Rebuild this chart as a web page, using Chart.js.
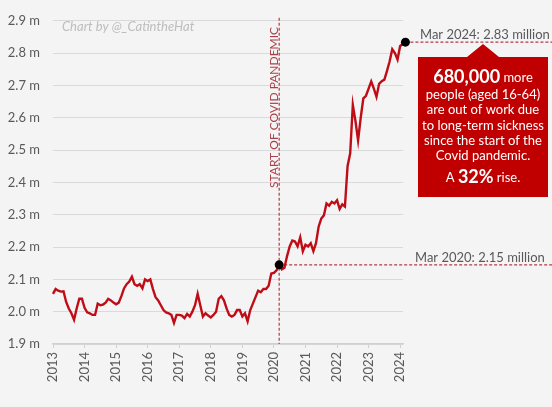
<!DOCTYPE html>
<html>
<head>
<meta charset="utf-8">
<script src="https://cdn.jsdelivr.net/npm/chart.js@4.4.1/dist/chart.umd.min.js"></script>
<style>
  html, body { margin: 0; padding: 0; background: #f4f4f4; }
  #wrap { width: 552px; height: 407px; position: relative; }
</style>
</head>
<body>
<div id="wrap"><canvas id="chart" width="552" height="407"></canvas></div>
<script>
// Monthly values, Jan 2013 .. Mar 2024 (millions, aged 16-64, long-term sick)
const firstYear = 2013;
const sickness = [
  2.055, 2.07, 2.065, 2.062, 2.063, 2.03, 2.01, 1.995, 1.975, 2.01, 2.04, 2.04,
  2.012, 1.998, 1.995, 1.99, 1.99, 2.025, 2.02, 2.022, 2.028, 2.04, 2.035, 2.028,
  2.023, 2.028, 2.048, 2.072, 2.085, 2.093, 2.108, 2.085, 2.08, 2.085, 2.072, 2.10,
  2.095, 2.10, 2.07, 2.045, 2.035, 2.02, 2.005, 1.998, 1.995, 1.99, 1.965, 1.99,
  1.99, 1.988, 1.98, 1.993, 1.985, 2.0, 2.02, 2.055, 2.02, 1.985, 1.995, 1.988,
  1.982, 1.99, 2.0, 2.04, 2.048, 2.035, 2.01, 1.99, 1.985, 1.99, 2.005, 2.005,
  1.985, 1.995, 1.97, 2.005, 2.025, 2.045, 2.065, 2.06, 2.07, 2.07, 2.08, 2.118,
  2.12, 2.128, 2.145, 2.131, 2.136, 2.172, 2.202, 2.22, 2.217, 2.202, 2.23, 2.187,
  2.207, 2.202, 2.212, 2.187, 2.212, 2.263, 2.288, 2.298, 2.335, 2.328, 2.34, 2.335,
  2.345, 2.318, 2.332, 2.325, 2.45, 2.49, 2.64, 2.59, 2.53, 2.60, 2.66, 2.668,
  2.69, 2.712, 2.69, 2.665, 2.705, 2.713, 2.718, 2.745, 2.775, 2.812, 2.80, 2.78,
  2.822, 2.828, 2.834
];
const yearTicks = [2013, 2014, 2015, 2016, 2017, 2018, 2019, 2020, 2021, 2022, 2023, 2024];
const covidIndex = 86;   // Mar 2020
const latestIndex = 134; // Mar 2024
const covidLabel = 'Mar 2020: 2.15 million';
const latestLabel = 'Mar 2024: 2.83 million';
const pandemicText = 'START OF COVID PANDEMIC';
const credit = 'Chart by @_CatintheHat';

const points = sickness.map((v, i) => ({ x: firstYear + i / 12, y: v }));

const FONT = 'Lato, "Open Sans", sans-serif';
const DASH_RED = '#b23a48';

const notes = {
  id: 'notes',
  beforeDatasetsDraw(chart) {
    const { ctx, chartArea, scales: { x, y } } = chart;
    const cx = x.getPixelForValue(points[covidIndex].x);
    const cy = y.getPixelForValue(points[covidIndex].y);
    const lx = x.getPixelForValue(points[latestIndex].x);
    const ly = y.getPixelForValue(points[latestIndex].y);
    ctx.save();
    ctx.strokeStyle = DASH_RED;
    ctx.lineWidth = 1.2;
    ctx.setLineDash([3, 2]);
    // vertical marker
    ctx.beginPath();
    ctx.moveTo(cx, chartArea.top - 3);
    ctx.lineTo(cx, chartArea.bottom);
    ctx.stroke();
    // horizontal guides
    ctx.beginPath();
    ctx.moveTo(cx, cy);
    ctx.lineTo(chart.width, cy);
    ctx.moveTo(lx, ly);
    ctx.lineTo(chart.width, ly);
    ctx.stroke();
    ctx.restore();
  },
  afterDraw(chart) {
    const { ctx, chartArea, scales: { x, y } } = chart;
    const cx = x.getPixelForValue(points[covidIndex].x);
    const cy = y.getPixelForValue(points[covidIndex].y);
    const ly = y.getPixelForValue(points[latestIndex].y);
    ctx.save();

    // credit
    ctx.font = 'italic 13px ' + FONT;
    ctx.fillStyle = '#bdbdbd';
    ctx.textBaseline = 'middle';
    ctx.textAlign = 'left';
    ctx.fillText(credit, chartArea.left + 9, 27);

    // rotated pandemic label
    ctx.save();
    ctx.translate(cx - 5, 188);
    ctx.rotate(-Math.PI / 2);
    ctx.font = '12px ' + FONT;
    ctx.fillStyle = '#a8404c';
    ctx.textAlign = 'left';
    ctx.textBaseline = 'middle';
    ctx.fillText(pandemicText, 0, 0);
    ctx.restore();

    // value labels
    ctx.font = '13px ' + FONT;
    ctx.fillStyle = '#595959';
    ctx.textAlign = 'left';
    ctx.textBaseline = 'bottom';
    ctx.fillText(latestLabel, chartArea.right + 17, ly - 1);
    ctx.fillText(covidLabel, chartArea.right + 12, cy - 1);

    // callout box
    const bx = chartArea.right + 15, bw = 130, by = 57, bh = 140;
    const mid = bx + bw / 2;
    ctx.fillStyle = '#c00000';
    ctx.beginPath();
    ctx.moveTo(bx, by);
    ctx.lineTo(mid - 16, by);
    ctx.lineTo(mid, by - 13);
    ctx.lineTo(mid + 16, by);
    ctx.lineTo(bx + bw, by);
    ctx.lineTo(bx + bw, by + bh);
    ctx.lineTo(bx, by + bh);
    ctx.closePath();
    ctx.fill();

    ctx.fillStyle = '#ffffff';
    ctx.textBaseline = 'middle';
    // first line: big number + "more"
    const bigFont = 'bold 18px ' + FONT, smallFont = '13px ' + FONT;
    ctx.font = bigFont;
    const w1 = ctx.measureText('680,000').width;
    ctx.font = smallFont;
    const w2 = ctx.measureText(' more').width;
    let sx = mid - (w1 + w2) / 2;
    ctx.textAlign = 'left';
    ctx.font = bigFont;
    ctx.fillText('680,000', sx, 77);
    ctx.font = smallFont;
    ctx.fillText(' more', sx + w1, 78);

    const lines = ['people (aged 16-64)', 'are out of work due', 'to long-term sickness',
                   'since the start of the', 'Covid pandemic.'];
    ctx.textAlign = 'center';
    lines.forEach((t, i) => ctx.fillText(t, mid, 95 + i * 15.3));

    // last line: A 32% rise.
    const parts = [['A ', smallFont], ['32%', 'bold 18px ' + FONT], [' rise.', smallFont]];
    let total = 0;
    parts.forEach(p => { ctx.font = p[1]; total += ctx.measureText(p[0]).width; });
    sx = mid - total / 2;
    ctx.textAlign = 'left';
    parts.forEach(p => {
      ctx.font = p[1];
      ctx.fillText(p[0], sx, p[0] === '32%' ? 177 : 178);
      sx += ctx.measureText(p[0]).width;
    });

    ctx.restore();
  }
};

new Chart(document.getElementById('chart'), {
  type: 'line',
  data: {
    datasets: [{
      data: points,
      borderColor: '#bf0d17',
      borderWidth: 2.4,
      tension: 0,
      clip: false,
      pointRadius: ctx => (ctx.dataIndex === covidIndex || ctx.dataIndex === latestIndex) ? 4.5 : 0,
      pointBackgroundColor: '#000',
      pointBorderColor: '#000',
      pointBorderWidth: 0
    }]
  },
  options: {
    responsive: false,
    animation: false,
    events: [],
    layout: { padding: { left: 0, right: 149, top: 13, bottom: 0 } },
    plugins: { legend: { display: false }, tooltip: { enabled: false } },
    scales: {
      x: {
        type: 'linear',
        min: firstYear,
        max: 2024.09,
        afterFit: s => { s.height = 63; },
        afterBuildTicks: s => { s.ticks = yearTicks.map(v => ({ value: v })); },
        grid: { drawOnChartArea: false, drawTicks: true, tickLength: 4, color: '#d0d0d0' },
        border: { color: '#d0d0d0', width: 1.5 },
        ticks: {
          minRotation: 90, maxRotation: 90, padding: 4,
          color: '#595959', font: { family: FONT, size: 13 },
          callback: v => String(v)
        }
      },
      y: {
        min: 1.9,
        max: 2.9,
        afterFit: s => { s.width = 53; },
        grid: { color: '#dadada', drawTicks: false },
        border: { display: false },
        ticks: {
          stepSize: 0.1, padding: 13,
          color: '#595959', font: { family: FONT, size: 13 },
          callback: v => v.toFixed(1) + ' m'
        }
      }
    }
  },
  plugins: [notes]
});
</script>
</body>
</html>
